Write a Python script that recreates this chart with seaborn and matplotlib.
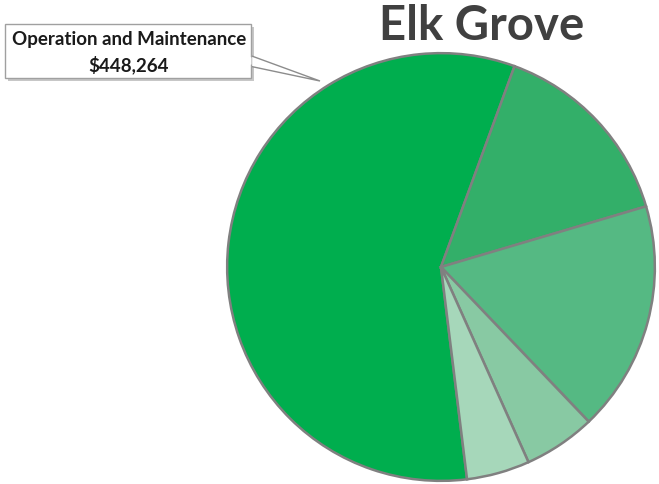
import matplotlib
matplotlib.use("Agg")
import matplotlib.pyplot as plt
from matplotlib.patches import FancyBboxPatch, Polygon
import seaborn as sns

# Spending categories for Elk Grove (clockwise from the bottom edge)
categories = ["Operation and Maintenance", "Administration", "Capital Projects",
              "Equipment", "Other"]
amounts = [448264, 115600, 135900, 42300, 37100]
colors = ["#00AE4E", "#33AF69", "#55B983", "#88C9A3", "#A6D7BA"]
title = "Elk Grove"

sns.set_theme(style="white")
plt.rcParams["font.family"] = ["Lato", "DejaVu Sans"]

W, H = 659, 485
fig = plt.figure(figsize=(W / 100, H / 100), dpi=100)
fig.patch.set_facecolor("white")

# Pie axes: centre (441, 268) px, radius 216 px
cx, cy, r = 441, 268, 216
ax = fig.add_axes([(cx - r) / W, (H - cy - r) / H, 2 * r / W, 2 * r / H])
ax.pie(amounts, colors=colors, startangle=90 - 173.0, counterclock=False,
       radius=1.0,
       wedgeprops=dict(edgecolor="#808080", linewidth=1.8))
ax.set_xlim(-1.01, 1.01)
ax.set_ylim(-1.01, 1.01)
ax.set_aspect("equal")
ax.axis("off")

# Overlay in pixel coordinates for the title and callout
ov = fig.add_axes([0, 0, 1, 1], zorder=5)
ov.set_xlim(0, W)
ov.set_ylim(H, 0)
ov.axis("off")

ov.text(482, 26, title, ha="center", va="center", fontsize=34,
        fontweight="bold", color="#404040")

# Callout box with shadow and pointer to the largest slice
bx0, by0, bx1, by1 = 5, 25, 251, 79
shadow = FancyBboxPatch((bx0 + 3, by0 + 3), bx1 - bx0, by1 - by0,
                        boxstyle="square,pad=0", facecolor="#9a9a9a",
                        edgecolor="none", alpha=0.55)
ov.add_patch(shadow)
pointer = Polygon([(bx1 - 2, 56), (320, 82), (bx1 - 2, 67)], closed=True,
                  facecolor="white", edgecolor="#8c8c8c", linewidth=1.0)
ov.add_patch(pointer)
box = FancyBboxPatch((bx0, by0), bx1 - bx0, by1 - by0,
                     boxstyle="square,pad=0", facecolor="white",
                     edgecolor="#a0a0a0", linewidth=1.0)
ov.add_patch(box)
# cover the pointer's base line inside the box
ov.add_patch(Polygon([(bx1 - 3, 57), (bx1 + 0.5, 58.5), (bx1 + 0.5, 65.5),
                      (bx1 - 3, 66)], closed=True, facecolor="white",
                     edgecolor="none"))
ov.text((bx0 + bx1) / 2 + 1, 40, categories[0], ha="center", va="center",
        fontsize=13.5, fontweight="bold", color="#1a1a1a")
ov.text((bx0 + bx1) / 2 + 1, 65, f"${amounts[0]:,}", ha="center", va="center",
        fontsize=13.5, fontweight="bold", color="#1a1a1a")

fig.savefig("out.png", dpi=100, facecolor="white")
